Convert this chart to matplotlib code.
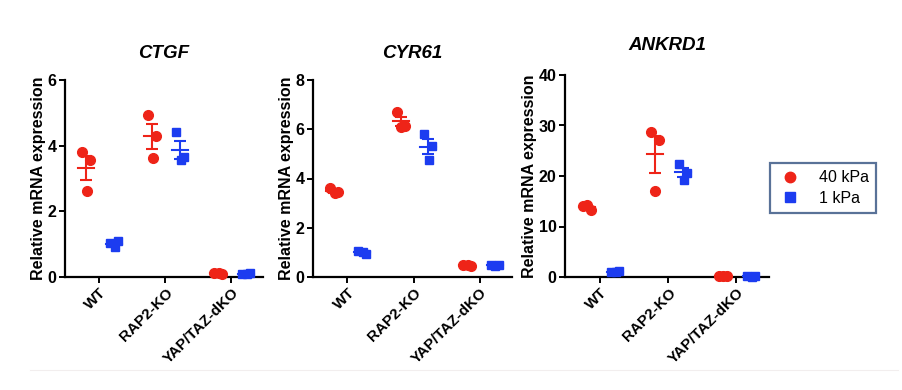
import matplotlib
matplotlib.use("Agg")
import matplotlib.pyplot as plt
import numpy as np
from matplotlib.lines import Line2D

plt.rcParams['font.family'] = ['Liberation Sans', 'DejaVu Sans']

categories = ["WT", "RAP2-KO", "YAP/TAZ-dKO"]
genes = ["CTGF", "CYR61", "ANKRD1"]
series = ["40 kPa", "1 kPa"]

# replicate values per category (3 replicates)
ctgf_40 = [[3.80, 3.55, 2.61], [4.94, 4.28, 3.62], [0.12, 0.10, 0.13]]
ctgf_1 = [[1.05, 1.10, 0.90], [4.41, 3.65, 3.55], [0.10, 0.11, 0.09]]
cyr61_40 = [[3.60, 3.45, 3.40], [6.71, 6.15, 6.10], [0.50, 0.45, 0.48]]
cyr61_1 = [[1.05, 0.95, 1.00], [5.79, 5.32, 4.75], [0.50, 0.48, 0.45]]
ankrd1_40 = [[14.0, 13.2, 14.2], [28.75, 27.2, 17.0], [0.20, 0.15, 0.22]]
ankrd1_1 = [[1.0, 1.1, 0.9], [22.4, 20.6, 19.2], [0.10, 0.12, 0.08]]

ymax = [6, 8, 40]
yticks = [[0, 2, 4, 6], [0, 2, 4, 6, 8], [0, 10, 20, 30, 40]]

data = {
    "CTGF": (ctgf_40, ctgf_1),
    "CYR61": (cyr61_40, cyr61_1),
    "ANKRD1": (ankrd1_40, ankrd1_1),
}

red = '#ee2418'
blue = '#1c3cf0'
colors = [red, blue]
markers = ['o', 's']
msizes = [7.0, 6.2]
offsets = [-0.2, 0.22]
jitter = [-0.06, 0.06, 0.01]

fig = plt.figure(figsize=(9.02, 3.90), dpi=100)

lefts = [65, 313, 565]
rights = [263, 512, 769]
tops = [80, 80, 75]
title_pads = [16, 16, 18]
bottom = 277
W, H = 902, 390

for i, g in enumerate(genes):
    ax = fig.add_axes([lefts[i] / W, 1 - bottom / H, (rights[i] - lefts[i]) / W,
                       (bottom - tops[i]) / H])
    for s in range(2):
        vals = data[g][s]
        for c in range(3):
            v = np.array(vals[c])
            xc = c + offsets[s]
            xs = xc + np.array(jitter)
            ax.plot(xs, v, linestyle='none', marker=markers[s], ms=msizes[s],
                    color=colors[s], mec=colors[s], zorder=3, clip_on=False)
            m = v.mean()
            sem = v.std(ddof=1) / np.sqrt(len(v))
            ax.plot([xc - 0.12, xc + 0.12], [m, m], color=colors[s], lw=1.5,
                    zorder=4, clip_on=False)
            ax.errorbar([xc], [m], yerr=[sem], fmt='none', ecolor=colors[s],
                        elinewidth=1.5, capsize=4, capthick=1.5, zorder=4)
    ax.set_xlim(-0.52, 2.48)
    ax.set_ylim(0, ymax[i])
    ax.set_yticks(yticks[i])
    ax.set_xticks(range(3))
    ax.set_xticklabels(categories, rotation=45, ha='right', rotation_mode='anchor',
                       fontsize=11, fontweight='bold')
    for lab in ax.get_yticklabels():
        lab.set_fontweight('bold')
        lab.set_fontsize(11.5)
    ax.spines['top'].set_visible(False)
    ax.spines['right'].set_visible(False)
    for sp in ['left', 'bottom']:
        ax.spines[sp].set_linewidth(1.6)
    ax.tick_params(axis='both', direction='out', length=4.5, width=1.4, pad=1.5)
    ax.set_ylabel("Relative mRNA expression", fontsize=11.5, fontweight='bold',
                  labelpad=1)
    ax.set_title(g, fontsize=13.5, fontweight='bold', fontstyle='italic',
                 pad=title_pads[i])

handles = [Line2D([], [], linestyle='none', marker='o', ms=7.5, color=red),
           Line2D([], [], linestyle='none', marker='s', ms=6.5, color=blue)]
leg = fig.legend(handles, series, loc='center', bbox_to_anchor=(823 / W, 1 - 188 / H),
                 frameon=True, fancybox=False, fontsize=11.5, handletextpad=1.0,
                 borderpad=0.45, labelspacing=0.35, handlelength=1.6,
                 borderaxespad=0)
leg.get_frame().set_edgecolor('#2f4f7f')
leg.get_frame().set_linewidth(1.6)

fig.add_artist(Line2D([30 / W, 898 / W], [1 - 370 / H, 1 - 370 / H],
                      color='#f2eeee', lw=0.8))

fig.savefig("out.png", dpi=100)
